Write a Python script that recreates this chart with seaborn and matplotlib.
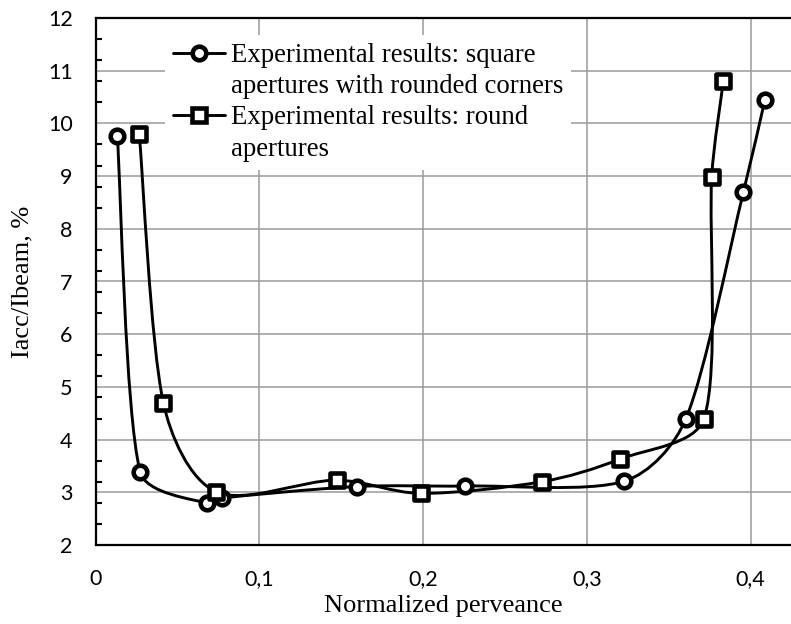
import numpy as np
import matplotlib
matplotlib.use("Agg")
import matplotlib.pyplot as plt
from matplotlib.path import Path
from matplotlib.patches import PathPatch
from matplotlib.lines import Line2D
from matplotlib.ticker import FixedLocator, FuncFormatter
import seaborn as sns
import pandas as pd

# ---- data ----
circ_x = [0.0133, 0.0272, 0.0683, 0.0770, 0.1598, 0.2256, 0.3227, 0.3605, 0.3955, 0.4087]
circ_y = [9.77, 3.39, 2.79, 2.89, 3.11, 3.12, 3.21, 4.40, 8.69, 10.45]
sq_x = [0.0267, 0.0414, 0.0736, 0.1472, 0.1985, 0.2724, 0.3202, 0.3715, 0.3762, 0.3833]
sq_y = [9.80, 4.70, 3.01, 3.23, 2.98, 3.20, 3.63, 4.40, 8.99, 10.80]
labels = ["Experimental results: square", "apertures with rounded corners",
          "Experimental results: round", "apertures"]
x_ticks = [0, 0.1, 0.2, 0.3, 0.4]
y_ticks = [2, 3, 4, 5, 6, 7, 8, 9, 10, 11, 12]

sns.set_theme(style="white")
plt.rcParams['font.family'] = ['Liberation Serif', 'DejaVu Serif']

fig = plt.figure(figsize=(7.91, 6.24), dpi=100)
ax = fig.add_axes([95.5 / 791, 1 - 545 / 624, 1 - 95.5 / 791, (545 - 18) / 624])
ax.set_xlim(0, (791 - 95.5) / 1638.0)
ax.set_ylim(2, 12)


def smooth_path(xs, ys):
    """Excel-like smoothed line: cubic Bezier through the points (built in display space)."""
    p = ax.transData.transform(np.column_stack([xs, ys]))
    n = len(p)
    verts = [p[0]]
    codes = [Path.MOVETO]

    def d(a, b):
        return float(np.hypot(*(p[a] - p[b])))

    for i in range(n - 1):
        i0 = i - 1 if i > 0 else i
        i3 = i + 2 if i + 2 < n else i + 1
        d01, d12, d23 = d(i0, i), d(i, i + 1), d(i + 1, i3)
        f1 = min(1.0, 2 * d12 / (d01 + d12)) if d01 > 0 else 1.0
        f2 = min(1.0, 2 * d12 / (d23 + d12)) if d23 > 0 else 1.0
        c1 = p[i] + (p[i + 1] - p[i0]) / 6.0 * f1
        c2 = p[i + 1] - (p[i3] - p[i]) / 6.0 * f2
        verts += [c1, c2, p[i + 1]]
        codes += [Path.CURVE4] * 3
    verts = ax.transData.inverted().transform(np.array(verts))
    return Path(verts, codes)


lw = 2.1
for xs, ys in [(circ_x, circ_y), (sq_x, sq_y)]:
    ax.add_patch(PathPatch(smooth_path(xs, ys), facecolor='none', edgecolor='black',
                           lw=lw, zorder=3, capstyle='round', joinstyle='round'))

df_c = pd.DataFrame({"x": circ_x, "y": circ_y})
df_s = pd.DataFrame({"x": sq_x, "y": sq_y})
ms = 9.8
mew = 3.3
sns.scatterplot(data=df_c, x="x", y="y", marker='o', s=ms ** 2, facecolor='white',
                edgecolor='black', linewidth=mew, ax=ax, zorder=4, legend=False)
sns.scatterplot(data=df_s, x="x", y="y", marker='s', s=ms ** 2, facecolor='white',
                edgecolor='black', linewidth=mew, ax=ax, zorder=5, legend=False)

ax.set_xlim(0, (791 - 95.5) / 1638.0)
ax.set_ylim(2, 12)

ax.set_xticks(x_ticks)
ax.set_yticks(y_ticks)
ax.yaxis.set_minor_locator(FixedLocator(np.arange(2.4, 12.01, 0.4)))
ax.xaxis.set_major_formatter(FuncFormatter(lambda v, p: ("%g" % v).replace('.', ',')))
ax.yaxis.set_major_formatter(FuncFormatter(lambda v, p: "%d" % v))

ax.grid(True, which='major', color='#9a9a9a', linewidth=1.1)
ax.set_axisbelow(True)

for s in ['left', 'bottom', 'top']:
    ax.spines[s].set_color('black')
    ax.spines[s].set_linewidth(1.6)
ax.spines['right'].set_visible(False)

ax.tick_params(axis='both', which='major', direction='out', length=6.5, width=1.5,
               color='black', labelsize=15.5, labelcolor='black')
ax.tick_params(axis='y', which='major', pad=10)
ax.tick_params(axis='x', which='major', pad=11)
ax.tick_params(axis='y', which='minor', direction='in', length=4, width=1.5,
               color='black', left=True)
for lab in ax.get_xticklabels() + ax.get_yticklabels():
    lab.set_fontfamily(['Lato', 'DejaVu Sans'])

ax.set_xlabel("Normalized perveance", fontsize=19, color='black', labelpad=4)
ax.set_ylabel("Iacc/Ibeam, %", fontsize=19, color='black', labelpad=10)

handles = [
    Line2D([], [], color='black', lw=lw, marker='o', ms=ms, mew=mew, mfc='white', mec='black'),
    Line2D([], [], linestyle='none'),
    Line2D([], [], color='black', lw=lw, marker='s', ms=ms, mew=mew, mfc='white', mec='black'),
    Line2D([], [], linestyle='none'),
]
leg = ax.legend(handles, labels, loc='upper left',
                bbox_to_anchor=(165 / 791, 1 - 35 / 624), bbox_transform=fig.transFigure,
                borderaxespad=0, frameon=True, fancybox=False, framealpha=1,
                facecolor='white', edgecolor='none', fontsize=19.3,
                handlelength=1.95, handletextpad=0.2, borderpad=0.3,
                labelspacing=0.23)
leg.set_zorder(6)
for t in leg.get_texts():
    t.set_color('black')

fig.savefig("out.png", dpi=100)
